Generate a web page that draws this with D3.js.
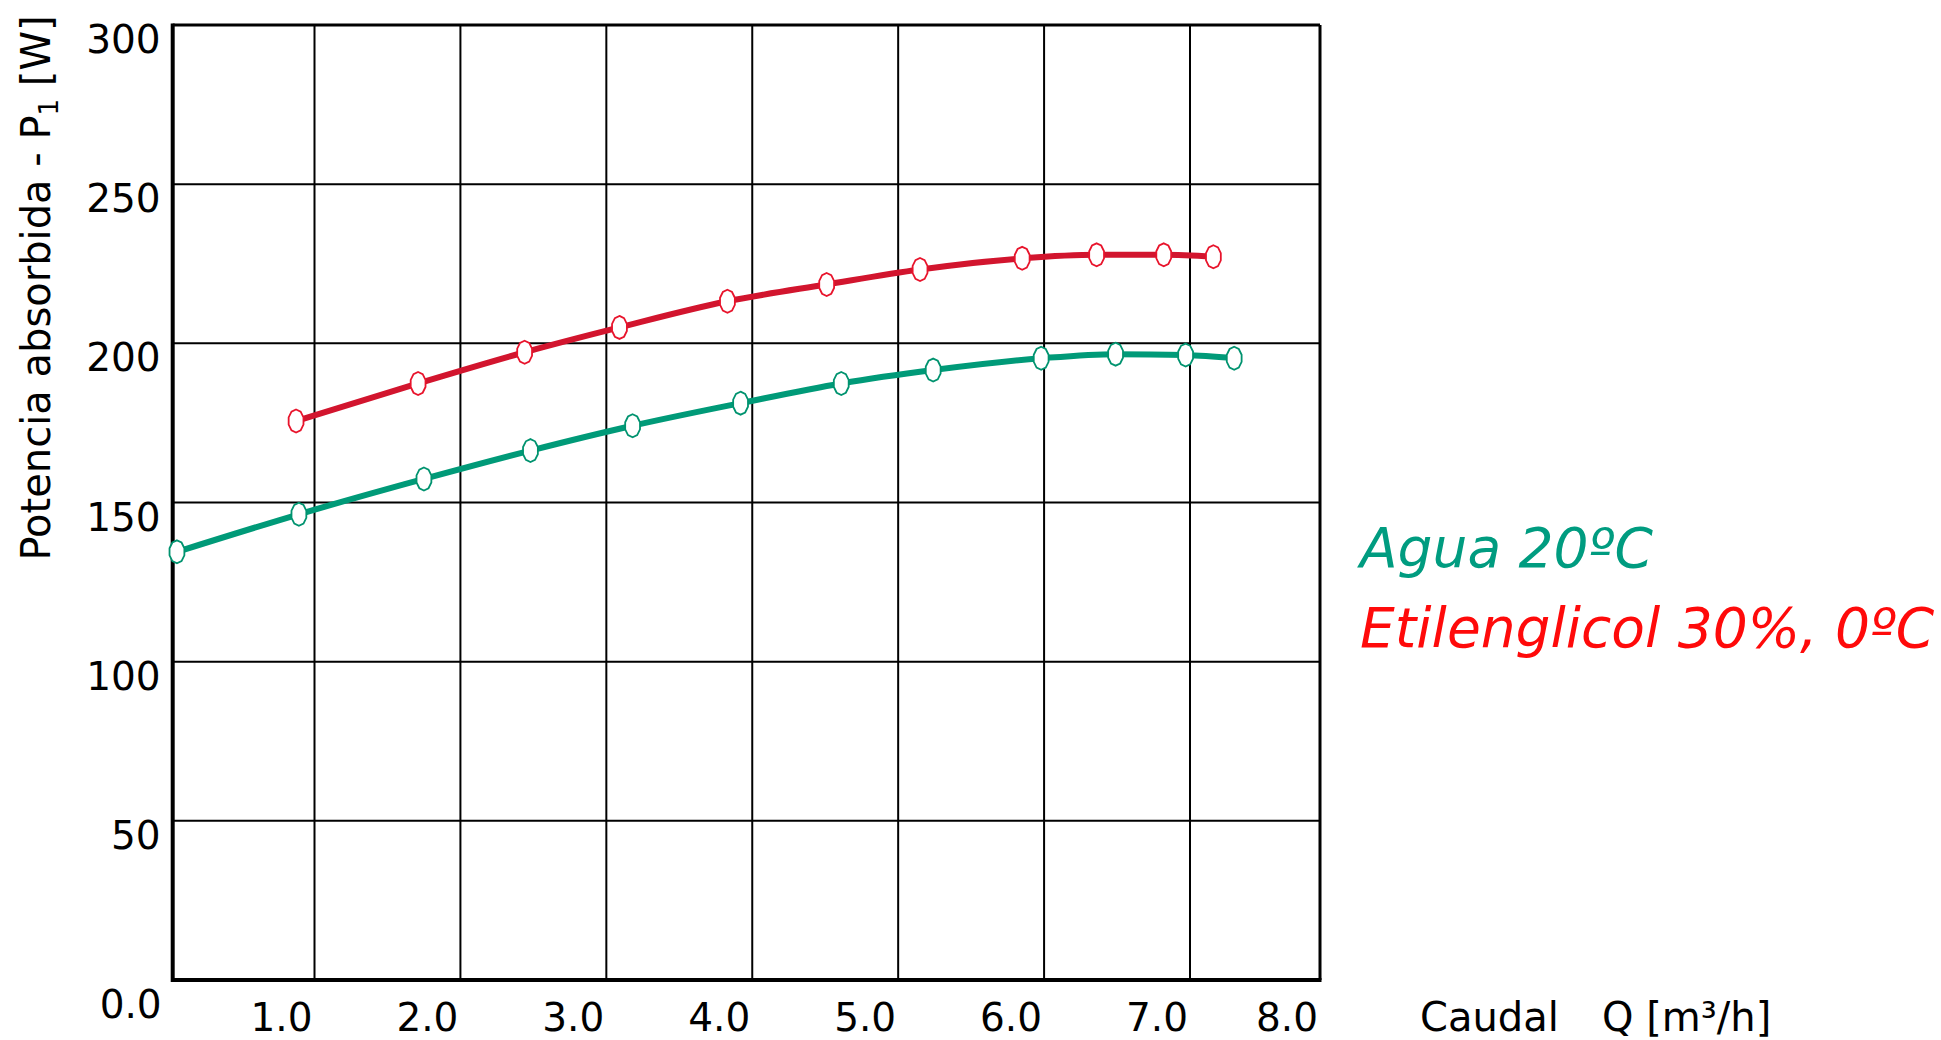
<!DOCTYPE html>
<html>
<head>
<meta charset="utf-8">
<script src="https://cdn.jsdelivr.net/npm/d3@7"></script>
<style>
  html, body { margin: 0; padding: 0; background: #fff; }
  svg { display: block; }
  text { font-family: "DejaVu Sans", Verdana, sans-serif; }
</style>
</head>
<body>
<script>
// Flow rate Q [m³/h]
const aguaQ = [0.03, 0.89, 1.75, 2.48, 3.18, 3.92, 4.61, 5.24, 5.98, 6.49, 6.97, 7.34];
// Absorbed power P1 [W], water 20 ºC
const aguaP = [134.5, 146.3, 157.4, 166.3, 174.1, 181.2, 187.4, 191.6, 195.3, 196.6, 196.3, 195.3];

const glicolQ = [0.87, 1.71, 2.44, 3.09, 3.83, 4.51, 5.15, 5.85, 6.36, 6.82, 7.18];
// Absorbed power P1 [W], ethylene glycol 30 %, 0 ºC
const glicolP = [175.6, 187.4, 197.2, 205.0, 213.2, 218.5, 223.2, 226.7, 227.8, 227.8, 227.2];

const xTicks = [1, 2, 3, 4, 5, 6, 7, 8];
const xTickLabels = ["1.0", "2.0", "3.0", "4.0", "5.0", "6.0", "7.0", "8.0"];
const yTicks = [50, 100, 150, 200, 250, 300];
const yTickLabels = ["50", "100", "150", "200", "250", "300"];
const originLabel = "0.0";

const seriesNames = ["Agua 20ºC", "Etilenglicol 30%, 0ºC"];
const lineColors = ["#009a78", "#d2152e"];
const markerColors = ["#00936f", "#e8142c"];
const legendColors = ["#009c80", "#ff0a0a"];

const W = 1941, H = 1040;

const svg = d3.select("body").append("svg")
  .attr("width", W).attr("height", H)
  .attr("viewBox", `0 0 ${W} ${H}`);

svg.append("rect").attr("width", W).attr("height", H).attr("fill", "#fff");

// Drawn grid: outer cells are slightly narrower than inner ones
const x = d3.scaleLinear().domain([0, 1, 7, 8]).range([172.7, 314.5, 1190, 1320]);
const y = d3.scaleLinear().domain([0, 300]).range([980, 25]);

const [x0, x1] = [x(0), x(8)];
const [y0, y1] = [y(0), y(300)];

// Grid
const grid = svg.append("g");
grid.selectAll("line.v").data(xTicks.filter(d => d < 8)).join("line")
  .attr("x1", d => x(d)).attr("x2", d => x(d))
  .attr("y1", y1).attr("y2", y0)
  .attr("stroke", "#000").attr("stroke-width", 2);
grid.selectAll("line.h").data(yTicks.filter(d => d < 300)).join("line")
  .attr("x1", x0).attr("x2", x1)
  .attr("y1", d => y(d)).attr("y2", d => y(d))
  .attr("stroke", "#000").attr("stroke-width", 2);

// Frame
svg.append("line").attr("x1", x0).attr("x2", x1).attr("y1", y1).attr("y2", y1)
  .attr("stroke", "#000").attr("stroke-width", 3);
svg.append("line").attr("x1", x1).attr("x2", x1).attr("y1", y1).attr("y2", y0)
  .attr("stroke", "#000").attr("stroke-width", 3);
svg.append("line").attr("x1", x0).attr("x2", x1 + 1.5).attr("y1", y0).attr("y2", y0)
  .attr("stroke", "#000").attr("stroke-width", 4);
svg.append("line").attr("x1", x0).attr("x2", x0).attr("y1", y1 - 1.5).attr("y2", y0 + 2)
  .attr("stroke", "#000").attr("stroke-width", 4);

// Tick labels
const tickFont = 39;
svg.append("g").selectAll("text").data(yTicks).join("text")
  .attr("x", x0 - 12).attr("y", d => y(d) + 28)
  .attr("text-anchor", "end").attr("font-size", tickFont).attr("fill", "#000")
  .text((d, i) => yTickLabels[i]);

svg.append("g").selectAll("text").data(xTicks).join("text")
  .attr("x", d => x(d) - 2).attr("y", 1031)
  .attr("text-anchor", "end").attr("font-size", tickFont).attr("fill", "#000")
  .text((d, i) => xTickLabels[i]);

svg.append("text").attr("x", x0 - 11).attr("y", y0 + 38)
  .attr("text-anchor", "end").attr("font-size", tickFont).attr("fill", "#000")
  .text(originLabel);

// Axis titles
const yTitle = svg.append("text")
  .attr("transform", "translate(50,288) rotate(-90)")
  .attr("text-anchor", "middle").attr("font-size", 40).attr("fill", "#000");
yTitle.append("tspan").text("Potencia absorbida - P");
yTitle.append("tspan").attr("font-size", 26).attr("dy", 8).text("1");
yTitle.append("tspan").attr("dy", -8).text(" [W]");

const xTitle = svg.append("text").attr("y", 1031).attr("font-size", 40).attr("fill", "#000");
xTitle.append("tspan").attr("x", 1420).text("Caudal");
xTitle.append("tspan").attr("x", 1602).text("Q [m³/h]");

// Curves
const series = [
  aguaQ.map((q, i) => ({ q, p: aguaP[i] })),
  glicolQ.map((q, i) => ({ q, p: glicolP[i] }))
];

const line = d3.line().x(d => x(d.q)).y(d => y(d.p)).curve(d3.curveMonotoneX);

// Elongated polygon marker
const markerPts = d3.range(10).map(k => {
  const a = k * Math.PI / 5;
  return [7.8 * Math.sin(a), -11.5 * Math.cos(a)];
});
const markerPath = "M" + markerPts.map(p => p.join(",")).join("L") + "Z";

series.forEach((s, i) => {
  svg.append("path").datum(s).attr("d", line)
    .attr("fill", "none").attr("stroke", lineColors[i])
    .attr("stroke-width", 6).attr("stroke-linejoin", "round");
  svg.append("g").selectAll("path").data(s).join("path")
    .attr("transform", d => `translate(${x(d.q)},${y(d.p)})`)
    .attr("d", markerPath)
    .attr("fill", "#fff").attr("stroke", markerColors[i]).attr("stroke-width", 1.8);
});

// Legend
const legendY = [567, 647];
svg.append("g").selectAll("text").data(seriesNames).join("text")
  .attr("x", 1360).attr("y", (d, i) => legendY[i])
  .attr("font-size", 55).attr("font-style", "italic")
  .attr("fill", (d, i) => legendColors[i])
  .text(d => d);
</script>
</body>
</html>
